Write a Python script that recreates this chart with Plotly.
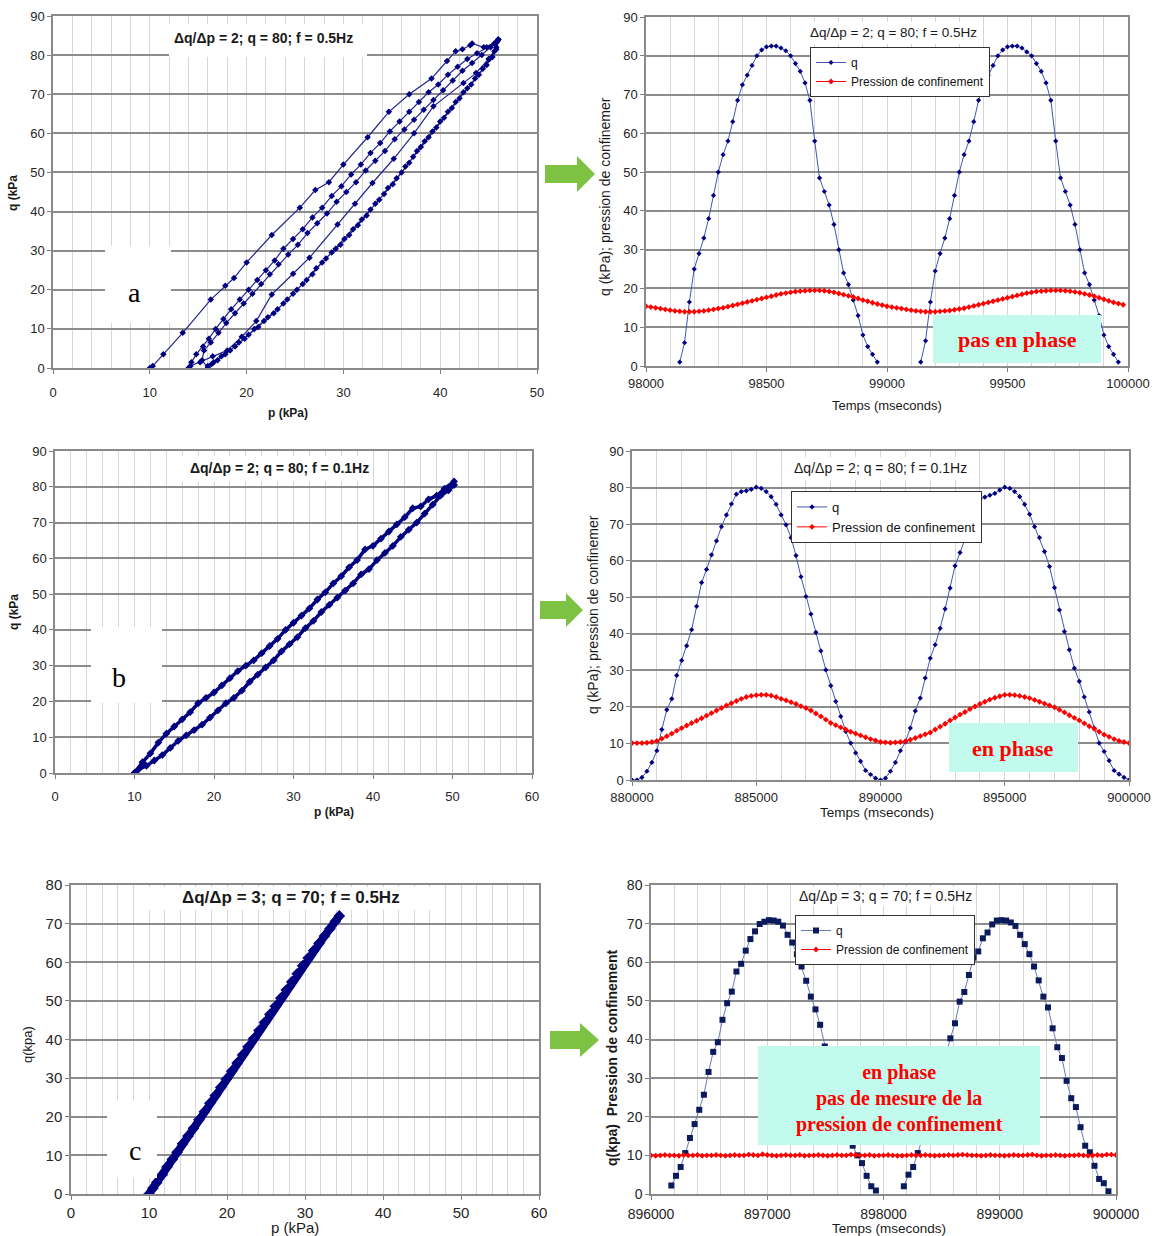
import plotly.graph_objects as go

W, H = 1159, 1236
FONT = "Arial, Liberation Sans, sans-serif"
SERIF = "Times New Roman, Liberation Serif, serif"

# ---------------- DATA ----------------
# Panel a (left top): q vs p, several load/unload paths
a_load1_p = [10.0, 10.3, 11.4, 13.4, 16.3, 17.8, 18.7, 20.0, 22.6, 25.5, 27.1, 28.5, 30.0, 32.5, 34.7, 36.8, 39.1, 40.7, 41.6, 42.3, 43.1, 43.3, 44.5, 45.6, 46.0]
a_load1_q = [0.0, 0.5, 3.5, 9.0, 17.5, 21.0, 23.0, 27.0, 34.0, 41.0, 45.5, 47.5, 52.0, 59.0, 65.5, 70.0, 74.0, 78.5, 81.0, 81.5, 82.5, 83.0, 82.0, 83.0, 84.0]
a_unl1_p = [45.8, 45.0, 43.7, 42.4, 39.3, 37.3, 35.2, 33.0, 31.2, 29.4, 26.5, 24.8, 22.6, 21.0, 19.5, 18.0, 16.5, 15.2, 14.2]
a_unl1_q = [82.0, 79.0, 75.4, 72.9, 66.9, 60.0, 53.5, 47.3, 42.0, 36.7, 28.2, 24.1, 18.8, 12.0, 8.0, 4.5, 3.0, 1.5, 0.5]
a_load2_p = [14.0, 14.3, 14.8, 15.5, 16.1, 16.8, 17.6, 18.4, 19.3, 20.2, 21.1, 22.0, 22.9, 23.8, 24.8, 25.8, 26.8, 27.8, 28.8, 29.8, 30.8, 31.8, 32.8, 33.8, 34.8, 35.8, 36.8, 37.8, 38.8, 39.8, 40.8, 41.8, 42.8, 43.8, 44.8, 45.6, 46.0]
a_load2_q = [0.0, 1.5, 3.5, 5.5, 7.5, 10.0, 12.5, 15.0, 17.5, 20.0, 22.5, 25.0, 27.5, 30.5, 33.0, 35.5, 38.5, 41.0, 44.0, 46.5, 49.5, 52.0, 55.0, 57.5, 60.5, 63.0, 65.5, 68.0, 70.5, 72.5, 75.0, 77.0, 79.0, 80.5, 82.0, 83.0, 84.0]
a_unl2_p = [46.0, 45.8, 45.4, 44.8, 44.0, 43.2, 42.4, 41.6, 40.8, 40.0, 39.2, 38.4, 37.6, 36.8, 36.0, 35.1, 34.2, 33.3, 32.4, 31.5, 30.6, 29.7, 28.8, 27.8, 26.8, 25.8, 24.8, 23.8, 22.8, 21.8, 20.8, 19.8, 18.8, 17.8, 17.0, 16.4, 16.0]
a_unl2_q = [84.0, 81.5, 79.5, 77.5, 75.0, 72.5, 70.5, 68.0, 65.5, 63.0, 60.5, 58.0, 55.5, 52.5, 50.0, 47.0, 44.5, 42.0, 39.0, 36.5, 34.0, 31.5, 29.5, 27.0, 24.0, 21.5, 19.0, 16.5, 14.0, 12.0, 10.0, 7.5, 5.5, 3.5, 2.0, 1.0, 0.0]
a_load3_p = [16.0, 15.4, 15.6, 16.3, 17.1, 17.9, 18.8, 19.7, 20.6, 21.5, 22.4, 23.3, 24.3, 25.3, 26.3, 27.3, 28.3, 29.3, 30.3, 31.3, 32.3, 33.3, 34.3, 35.3, 36.3, 37.3, 38.3, 39.3, 40.3, 41.3, 42.3, 43.3, 44.3, 45.2, 45.9]
a_load3_q = [0.0, 2.0, 4.5, 6.5, 9.0, 11.5, 14.0, 16.5, 19.0, 21.5, 24.0, 26.5, 29.0, 31.5, 34.5, 37.0, 39.5, 42.5, 45.0, 47.5, 50.5, 53.0, 55.5, 58.5, 61.0, 63.5, 66.0, 68.5, 71.0, 73.5, 76.0, 78.0, 80.0, 82.0, 83.5]
a_unl3_p = [45.9, 45.6, 45.1, 44.4, 43.6, 42.8, 42.0, 41.2, 40.4, 39.6, 38.8, 38.0, 37.2, 36.4, 35.5, 34.6, 33.7, 32.8, 31.9, 31.0, 30.1, 29.2, 28.2, 27.2, 26.2, 25.2, 24.2, 23.2, 22.2, 21.2, 20.2, 19.2, 18.3, 17.4, 16.6, 16.0]
a_unl3_q = [83.5, 81.0, 79.0, 76.5, 74.0, 71.5, 69.0, 66.5, 64.0, 61.5, 59.0, 56.5, 54.0, 51.5, 48.5, 46.0, 43.0, 40.5, 38.0, 35.5, 33.0, 30.5, 28.0, 25.5, 22.5, 20.0, 17.5, 15.0, 13.0, 10.5, 8.5, 6.5, 4.5, 3.0, 1.5, 0.5]

# Panel a (right top): time series, f = 0.5 Hz
b_q_hump1 = [1, 6, 16.5, 25, 29, 33, 38, 44, 50, 54.5, 58, 63, 68.5, 72.5, 75, 77.5, 80, 81.5, 82.3, 82.5,
             82.5, 82, 81.3, 80, 78, 76, 73, 68.5, 58, 48.5, 45, 41.5, 36.5, 30, 24, 21, 17, 13, 8, 5, 3, 1]
b_q_hump2 = [1, 6.5, 16.5, 24.5, 29, 33, 38, 44, 50, 54.5, 58, 63, 68.5, 72, 75, 77.5, 80, 81.5, 82.3, 82.5,
             82.5, 82, 81, 80, 78, 76, 73, 68.5, 58, 48.5, 45, 41.5, 36.5, 30, 24, 21, 17, 13, 8, 5, 3, 1]
b_t_hump1 = list(range(98140, 98961, 20))
b_t_hump2 = list(range(99140, 99961, 20))
b_conf = [15.4, 15.2, 15.0, 14.8, 14.6, 14.4, 14.2, 14.1, 14.0, 14.0,
          14.0, 14.1, 14.2, 14.4, 14.6, 14.8, 15.0, 15.3, 15.6, 15.9,
          16.2, 16.5, 16.8, 17.1, 17.4, 17.7, 18.0, 18.3, 18.6, 18.8,
          19.0, 19.2, 19.3, 19.4, 19.5, 19.5, 19.5, 19.4, 19.2, 19.0,
          18.7, 18.4, 18.1, 17.8, 17.4, 17.0, 16.7, 16.3, 16.0, 15.7,
          15.4, 15.2, 15.0, 14.8, 14.6, 14.4, 14.2, 14.1, 14.0, 14.0,
          14.0, 14.1, 14.2, 14.3, 14.5, 14.7, 14.9, 15.2, 15.5, 15.8,
          16.1, 16.4, 16.7, 17.0, 17.3, 17.6, 17.9, 18.2, 18.5, 18.8,
          19.0, 19.2, 19.3, 19.4, 19.5, 19.5, 19.5, 19.4, 19.3, 19.1,
          18.9, 18.6, 18.3, 18.0, 17.6, 17.2, 16.8, 16.4, 16.1, 15.8]
b_t_conf = list(range(98000, 100000, 20))

# Panel b (left middle): q vs p, f = 0.1 Hz
c_load_p = [10.0, 11.0, 12.0, 13.0, 14.0, 15.0, 16.0, 17.0, 18.0, 19.0, 20.0, 21.0, 22.0, 23.0, 24.0, 25.0, 26.0, 27.0, 28.0, 29.0, 30.0,
            31.0, 32.0, 33.0, 34.0, 35.0, 36.0, 37.0, 38.0, 39.0, 40.0, 41.0, 42.0, 43.0, 44.0, 45.0, 46.0, 47.0, 48.0, 49.0, 50.2]
c_load_q = [0.0, 3.0, 5.5, 8.5, 11.0, 13.0, 15.0, 17.0, 19.5, 21.0, 22.5, 24.5, 26.5, 28.5, 30.0, 31.5, 33.5, 35.5, 37.5, 40.0, 42.0,
            44.0, 46.0, 48.5, 50.5, 53.0, 55.0, 57.5, 59.5, 62.5, 63.5, 65.5, 67.5, 69.5, 71.5, 74.0, 74.5, 76.5, 77.5, 79.5, 81.5]
c_unl_p = [50.2, 49.5, 48.5, 47.5, 46.5, 45.5, 44.5, 43.5, 42.5, 41.5, 40.5, 39.5, 38.5, 37.5, 36.5, 35.5, 34.5, 33.5, 32.5, 31.5, 30.5,
           29.5, 28.5, 27.5, 26.5, 25.5, 24.5, 23.5, 22.5, 21.5, 20.5, 19.5, 18.5, 17.5, 16.5, 15.5, 14.5, 13.5, 12.5, 11.5, 10.5, 10.0]
c_unl_q = [80.5, 79.0, 77.5, 75.0, 72.5, 70.0, 68.0, 66.0, 63.5, 61.5, 59.5, 57.0, 55.5, 53.0, 51.0, 49.0, 47.0, 45.0, 42.5, 40.5, 38.0,
           36.0, 34.0, 31.5, 29.5, 27.5, 25.5, 23.0, 21.0, 19.5, 17.5, 15.5, 13.5, 12.0, 10.5, 9.0, 7.0, 5.0, 3.5, 2.0, 1.0, 0.0]

# Panel b (right middle): time series, f = 0.1 Hz
d_t = list(range(880000, 900001, 200))
d_q = [0, 0, 0.7, 2.4, 4.8, 8.0, 13.8, 19.2, 22.2, 28.6,
       32.7, 36.7, 41.1, 47.5, 54.0, 57.6, 61.6, 65.4, 69.3, 72.5,
       75.5, 78.2, 78.9, 79.1, 79.5, 80.1, 79.8, 78.9, 77.5, 75.4,
       72.5, 69.8, 66.3, 61.4, 55.6, 50.2, 45.4, 40.4, 35.3, 30.1,
       25.8, 21.5, 17.4, 13.3, 10.1, 7.4, 5.1, 2.6, 1.5, 0.5,
       0, 0.5, 2.4, 4.8, 8.0, 10.4, 14.2, 18.9, 22.4, 27.9,
       33.3, 37.0, 41.5, 46.8, 52.5, 58.6, 62.2, 66.1, 69.9, 73.4,
       76.8, 77.4, 77.9, 78.4, 79.3, 80.1, 79.8, 78.9, 77.5, 75.4,
       72.7, 69.3, 66.3, 62.5, 58.4, 52.6, 46.5, 40.6, 35.6, 30.6,
       27.0, 22.7, 18.6, 14.2, 10.1, 7.8, 5.3, 2.6, 1.6, 0.7,
       0]
d_conf = [10.1, 10.1, 10.1, 10.2, 10.4, 10.7, 11.3, 12.0, 12.7, 13.5,
          14.2, 14.9, 15.6, 16.2, 16.9, 17.6, 18.3, 19.0, 19.7, 20.4,
          21.0, 21.6, 22.2, 22.7, 23.0, 23.2, 23.3, 23.3, 23.1, 22.7,
          22.2, 21.8, 21.3, 20.8, 20.2, 19.7, 19.0, 18.2, 17.4, 16.5,
          15.6, 15.0, 14.4, 13.8, 13.2, 12.7, 12.2, 11.7, 11.2, 10.8,
          10.4, 10.3, 10.2, 10.3, 10.4, 10.6, 11.0, 11.5, 12.0, 12.5,
          13.0, 13.8, 14.6, 15.4, 16.3, 17.1, 17.9, 18.6, 19.4, 20.1,
          20.8, 21.4, 22.0, 22.5, 22.9, 23.3, 23.3, 23.2, 23.0, 22.7,
          22.4, 21.9, 21.4, 20.9, 20.4, 19.9, 19.2, 18.5, 17.7, 17.0,
          16.3, 15.5, 14.7, 14.0, 13.2, 12.4, 11.8, 11.2, 10.7, 10.4,
          10.1]

# Panel c (left bottom): q vs p, dq/dp = 3
e_p = [10.0, 10.5, 11.0, 11.7, 12.3, 13.0, 13.6, 14.3, 15.0, 15.7, 16.4, 17.1, 17.8, 18.5, 19.2, 19.9, 20.6, 21.3, 22.0,
       22.7, 23.4, 24.1, 24.8, 25.5, 26.2, 26.9, 27.6, 28.3, 29.0, 29.7, 30.4, 31.1, 31.8, 32.5, 33.2, 33.9, 34.4]
e_q = [0.0, 1.5, 3.0, 5.0, 7.0, 9.0, 10.8, 13.0, 15.0, 17.0, 19.2, 21.3, 23.5, 25.5, 27.6, 29.7, 31.8, 33.9, 36.0,
       38.1, 40.2, 42.3, 44.4, 46.5, 48.6, 50.7, 52.8, 54.9, 57.0, 59.1, 61.1, 63.0, 64.9, 66.8, 68.7, 70.6, 72.0]

# Panel c (right bottom): time series
f_t_hump1 = list(range(896175, 897936, 40))
f_q_hump1 = [2.2, 4.7, 7.0, 10.6, 14.5, 18.1, 21.8, 25.7, 31.6, 36.8,
             39.3, 45.1, 49.4, 52.4, 57.6, 59.6, 63.0, 66.0, 68.0, 69.9,
             70.5, 70.9, 70.8, 70.5, 69.5, 67.1, 65.1, 62.1, 58.9, 55.2,
             51.1, 47.8, 43.8, 38.2, 33.5, 28.5, 24.0, 19.5, 15.5, 12.5,
             10.0, 8.0, 4.7, 2.0, 0.9]
f_t_hump2 = list(range(898175, 899936, 40))
f_q_hump2 = [2.0, 5.0, 7.0, 10.6, 14.0, 18.0, 22.0, 26.0, 31.0, 36.0,
             40.3, 44.2, 49.8, 52.3, 56.7, 61.2, 62.8, 66.2, 67.7, 69.8,
             70.8, 70.9, 70.8, 70.3, 69.4, 67.1, 64.7, 62.1, 58.9, 55.3,
             51.1, 48.3, 42.9, 38.0, 35.2, 29.3, 24.8, 22.5, 17.3, 12.5,
             10.8, 7.3, 3.9, 2.8, 0.7]
f_t_conf = list(range(896000, 900001, 40))
f_conf = [10.0, 9.9, 10.0, 10.1, 10.0, 10.0, 9.9, 10.1, 10.0, 10.0,
          10.1, 9.9, 10.0, 10.0, 10.1, 10.0, 9.9, 10.0, 10.1, 10.0,
          10.0, 10.2, 10.1, 10.0, 10.3, 10.1, 10.0, 9.9, 10.0, 10.1,
          10.0, 10.0, 10.1, 9.9, 10.0, 10.0, 10.1, 10.0, 9.9, 10.0,
          10.1, 10.0, 10.0, 10.2, 10.1, 10.0, 10.0, 10.1, 9.9, 10.0,
          10.0, 10.1, 10.0, 9.9, 9.9, 10.0, 10.1, 10.0, 10.0, 10.1,
          10.0, 9.9, 10.0, 10.0, 10.1, 10.0, 10.1, 10.2, 10.1, 10.0,
          10.0, 9.9, 10.0, 10.1, 10.0, 10.0, 9.9, 10.0, 10.1, 10.0,
          10.0, 10.1, 10.2, 10.0, 9.9, 10.0, 10.0, 10.1, 10.0, 9.9,
          10.0, 10.0, 10.1, 10.0, 9.9, 10.0, 10.1, 10.0, 10.2, 10.2,
          10.1]

titles = ["Δq/Δp = 2; q = 80; f = 0.5Hz", "Δq/Δp = 2; q = 80; f = 0.1Hz", "Δq/Δp = 3; q = 70; f = 0.5Hz"]
series_names = ["q", "Pression de confinement"]

# ---------------- FIGURE ----------------
NAVY = "#000080"
RED = "#ff0000"

fig = go.Figure()

# left top
a_p = a_load1_p + a_unl1_p + a_load2_p + a_unl2_p + a_load3_p + a_unl3_p
a_q = a_load1_q + a_unl1_q + a_load2_q + a_unl2_q + a_load3_q + a_unl3_q
fig.add_trace(go.Scatter(x=a_p, y=a_q, mode="lines+markers", xaxis="x", yaxis="y",
                         line=dict(color="#23238f", width=1.2),
                         marker=dict(symbol="diamond", size=5, color=NAVY), showlegend=False))

# right top
fig.add_trace(go.Scatter(x=b_t_hump1 + [None] + b_t_hump2, y=b_q_hump1 + [None] + b_q_hump2,
                         mode="lines+markers", xaxis="x2", yaxis="y2", name=series_names[0],
                         line=dict(color="#4555b0", width=1), marker=dict(symbol="diamond", size=4, color=NAVY),
                         legend="legend"))
fig.add_trace(go.Scatter(x=b_t_conf, y=b_conf, mode="lines+markers", xaxis="x2", yaxis="y2", name=series_names[1],
                         line=dict(color=RED, width=1), marker=dict(symbol="diamond", size=4.5, color=RED),
                         legend="legend"))

# left middle
fig.add_trace(go.Scatter(x=c_load_p + c_unl_p, y=c_load_q + c_unl_q, mode="lines+markers", xaxis="x3", yaxis="y3",
                         line=dict(color=NAVY, width=3.5),
                         marker=dict(symbol="diamond", size=6, color=NAVY), showlegend=False))

# right middle
fig.add_trace(go.Scatter(x=d_t, y=d_q, mode="lines+markers", xaxis="x4", yaxis="y4", name=series_names[0],
                         line=dict(color="#4555b0", width=1), marker=dict(symbol="diamond", size=4, color=NAVY),
                         legend="legend2"))
fig.add_trace(go.Scatter(x=d_t, y=d_conf, mode="lines+markers", xaxis="x4", yaxis="y4", name=series_names[1],
                         line=dict(color=RED, width=1), marker=dict(symbol="diamond", size=4.5, color=RED),
                         legend="legend2"))

# left bottom
fig.add_trace(go.Scatter(x=e_p, y=e_q, mode="lines+markers", xaxis="x5", yaxis="y5",
                         line=dict(color=NAVY, width=8),
                         marker=dict(symbol="diamond", size=9, color=NAVY), showlegend=False))

# right bottom
fig.add_trace(go.Scatter(x=f_t_hump1 + [None] + f_t_hump2, y=f_q_hump1 + [None] + f_q_hump2,
                         mode="lines+markers", xaxis="x6", yaxis="y6", name=series_names[0],
                         line=dict(color="#6a7ab8", width=1), marker=dict(symbol="square", size=6, color="#0b1a5c"),
                         legend="legend3"))
fig.add_trace(go.Scatter(x=f_t_conf, y=f_conf, mode="lines+markers", xaxis="x6", yaxis="y6", name=series_names[1],
                         line=dict(color=RED, width=1), marker=dict(symbol="diamond", size=4.5, color=RED),
                         legend="legend3"))

# ---------------- AXES ----------------
def px(x):
    return x / W


def py(y):
    return 1 - y / H


def xax(box, rng, dtick, minor, size, anchor, standoff):
    x0, x1, y0, y1 = box
    return dict(domain=[px(x0), px(x1)], range=rng, anchor=anchor, dtick=dtick, tick0=rng[0], tickformat="d",
                showgrid=True, gridcolor="#d6d6d6", gridwidth=1,
                minor=dict(dtick=minor, tick0=rng[0], showgrid=True, gridcolor="#d6d6d6", gridwidth=1),
                ticks="outside", ticklen=4, tickcolor="#808080", ticklabelstandoff=standoff,
                showline=True, linecolor="#8a8a8a", linewidth=1.5, mirror=True, zeroline=False,
                tickfont=dict(family=FONT, size=size, color="#262626"))


def yax(box, rng, size, anchor):
    x0, x1, y0, y1 = box
    return dict(domain=[py(y1), py(y0)], range=rng, anchor=anchor, dtick=10, tick0=0,
                showgrid=True, gridcolor="#8c8c8c", gridwidth=1.5,
                ticks="outside", ticklen=4, tickcolor="#808080",
                showline=True, linecolor="#8a8a8a", linewidth=1.5, mirror=True, zeroline=False,
                tickfont=dict(family=FONT, size=size, color="#262626"))


boxA = (53, 537, 16, 368)
boxB = (646, 1128, 17, 366)
boxC = (55, 532, 451, 773)
boxD = (632, 1129, 451, 780)
boxE = (71, 539, 885, 1194)
boxF = (651, 1116, 885, 1194)

layout = dict(
    width=W, height=H, margin=dict(l=0, r=0, t=0, b=0, autoexpand=False),
    paper_bgcolor="white", plot_bgcolor="white",
    xaxis=xax(boxA, [0, 50], 10, 2, 13, "y", 8),
    yaxis=yax(boxA, [0, 90], 13, "x"),
    xaxis2=xax(boxB, [98000, 100000], 500, 100, 13, "y2", 1),
    yaxis2=yax(boxB, [0, 90], 13, "x2"),
    xaxis3=xax(boxC, [0, 60], 10, 2, 13, "y3", 7),
    yaxis3=yax(boxC, [0, 90], 13, "x3"),
    xaxis4=xax(boxD, [880000, 900000], 5000, 1000, 13, "y4", 1),
    yaxis4=yax(boxD, [0, 90], 13, "x4"),
    xaxis5=xax(boxE, [0, 60], 10, 2, 15, "y5", 0),
    yaxis5=yax(boxE, [0, 80], 15, "x5"),
    xaxis6=xax(boxF, [896000, 900000], 1000, 200, 14, "y6", 2),
    yaxis6=yax(boxF, [0, 80], 14, "x6"),
)

legend_common = dict(xanchor="left", yanchor="top", bgcolor="white", bordercolor="#333333", borderwidth=1,
                     tracegroupgap=0, itemwidth=30)
layout["legend"] = dict(x=px(810), y=py(47), font=dict(family=FONT, size=12, color="#111"), **legend_common)
layout["legend2"] = dict(x=px(791), y=py(491), font=dict(family=FONT, size=13, color="#111"), **legend_common)
layout["legend3"] = dict(x=px(795), y=py(915), font=dict(family=FONT, size=12, color="#111"), **legend_common)

fig.update_layout(**layout)

# ---------------- SHAPES ----------------
shapes = []


def rect(x0, y0, x1, y1, color):
    shapes.append(dict(type="rect", xref="paper", yref="paper", x0=px(x0), x1=px(x1), y0=py(y1), y1=py(y0),
                       fillcolor=color, line=dict(width=0), layer="above"))


# white title boxes
rect(169, 24, 367, 57, "white")
rect(805, 22, 982, 44, "white")
rect(171, 456, 373, 481, "white")
rect(792, 457, 968, 480, "white")
rect(143, 887, 438, 910, "white")
rect(798, 887, 972, 906, "white")
# white letter boxes
rect(105, 246, 171, 323, "white")
rect(91, 627, 162, 703, "white")
rect(107, 1100, 157, 1178, "white")
# cyan boxes
CYAN = "#c2fbee"
rect(933, 315, 1101, 363, CYAN)
rect(949, 723, 1078, 772, CYAN)
rect(758, 1046, 1040, 1145, CYAN)


def arrow(x0, xm, x1, yc, bh, hh):
    pts = [(x0, yc - bh), (xm, yc - bh), (xm, yc - hh), (x1, yc), (xm, yc + hh), (xm, yc + bh), (x0, yc + bh)]
    path = "M " + " L ".join(f"{px(x):.5f},{py(y):.5f}" for x, y in pts) + " Z"
    shapes.append(dict(type="path", xref="paper", yref="paper", path=path,
                       fillcolor="#7dc242", line=dict(width=0), layer="above"))


arrow(545, 577, 595, 174, 9, 18)
arrow(540, 566, 583, 610, 9, 17)
arrow(550, 580, 599, 1040, 9, 17)

fig.update_layout(shapes=shapes)

# ---------------- ANNOTATIONS ----------------
ann = []


def text(x, y, s, size=12, color="#1a1a1a", family=FONT, angle=0):
    ann.append(dict(x=px(x), y=py(y), xref="paper", yref="paper", text=s, showarrow=False,
                    xanchor="center", yanchor="middle", textangle=angle,
                    font=dict(family=family, size=size, color=color)))


# chart titles
text(263, 38, "<b>" + titles[0] + "</b>", 14)
text(893, 32, titles[0], 13.5)
text(279, 468, "<b>" + titles[1] + "</b>", 14)
text(880, 468, titles[1], 14)
text(291, 897, "<b>" + titles[2] + "</b>", 17)
text(885, 896, titles[2], 14)

# axis titles
text(13, 193, "<b>q (kPa</b>", 12, angle=-90)
text(288, 413, "<b>p (kPa)</b>", 12)
text(605, 197, "q (kPa); pression de confinemer", 14, angle=-90)
text(887, 406, "Temps (mseconds)", 13)
text(14, 612, "<b>q (kPa</b>", 12, angle=-90)
text(334, 812, "<b>p (kPa)</b>", 12)
text(593, 615, "q (kPa); pression de confinemer", 14, angle=-90)
text(877, 812, "Temps (mseconds)", 13.5)
text(27, 1045, "q(kpa)", 13, angle=-90)
text(295, 1227, "p (kPa)", 15)
text(612, 1058, "<b>q(kpa)  Pression de confinement</b>", 14, angle=-90)
text(889, 1228, "Temps (mseconds)", 13.5)

# panel letters
text(134, 293, "a", 28, color="#000000", family=SERIF)
text(119, 677, "b", 28, color="#000000", family=SERIF)
text(135, 1150, "c", 28, color="#000000", family=SERIF)

# phase notes
text(1017, 339, "<b>pas en phase</b>", 22, color=RED, family=SERIF)
text(1013, 748, "<b>en phase</b>", 22, color=RED, family=SERIF)
text(899, 1098, "<b>en phase<br>pas de mesure de la<br>pression de confinement</b>", 20, color=RED, family=SERIF)

fig.update_layout(annotations=ann)

fig.write_html("out.html", config={"displayModeBar": False},
               post_script="document.body.style.margin='0px';document.body.style.padding='0px';document.body.style.overflow='hidden';")
